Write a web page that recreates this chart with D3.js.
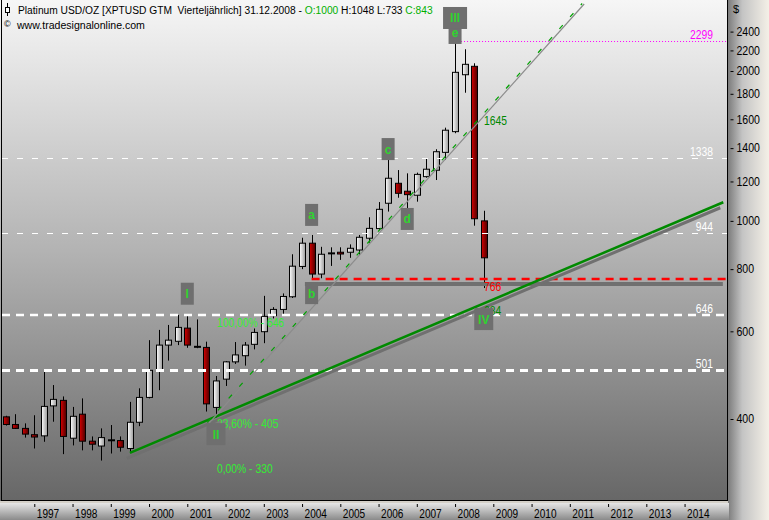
<!DOCTYPE html>
<html><head><meta charset="utf-8">
<script src="https://cdn.jsdelivr.net/npm/d3@7"></script>
<style>
body{margin:0;background:#d4d0c8;overflow:hidden;}
svg{display:block;}
text{font-family:"Liberation Sans",Arial,sans-serif;}
</style></head><body>
<svg id="c" width="769" height="520"></svg>
<script>
// ---------------- data ----------------
const quarters = ["1996Q2","1996Q3","1996Q4",
 "1997Q1","1997Q2","1997Q3","1997Q4","1998Q1","1998Q2","1998Q3","1998Q4",
 "1999Q1","1999Q2","1999Q3","1999Q4","2000Q1","2000Q2","2000Q3","2000Q4",
 "2001Q1","2001Q2","2001Q3","2001Q4","2002Q1","2002Q2","2002Q3","2002Q4",
 "2003Q1","2003Q2","2003Q3","2003Q4","2004Q1","2004Q2","2004Q3","2004Q4",
 "2005Q1","2005Q2","2005Q3","2005Q4","2006Q1","2006Q2","2006Q3","2006Q4",
 "2007Q1","2007Q2","2007Q3","2007Q4","2008Q1","2008Q2","2008Q3","2008Q4"];
const open  = [404,390,383,372,370,425,436,366,409,361,353,362,362,349,394,442,502,563,573,609,559,557,422,481,521,536,565,599,645,664,704,810,902,782,860,865,865,874,923,965,1085,1190,1147,1126,1227,1264,1373,1511,1966,2044,1000];
const high  = [406,409,392,407,498,468,444,423,440,369,383,389,369,433,461,576,604,618,647,647,634,572,488,523,571,571,608,707,671,715,857,925,937,887,885,885,897,937,1017,1091,1326,1265,1246,1250,1336,1393,1539,2290,2212,2073,1048];
const low   = [388,382,367,349,360,395,340,354,346,346,330,341,344,344,387,440,457,524,563,556,555,414,403,466,516,512,552,568,637,650,700,800,767,767,812,835,843,854,904,959,1044,1113,1060,1093,1221,1208,1326,1500,1809,978,733];
const close = [390,383,373,368,424,438,369,405,361,356,367,363,351,394,442,501,563,576,611,563,558,429,477,521,538,563,597,643,664,705,811,902,782,857,861,858,881,927,966,1055,1218,1136,1129,1240,1270,1377,1521,1988,2063,1010,843];

const yearLabels = ["1997","1998","1999","2000","2001","2002","2003","2004","2005","2006","2007","2008","2009","2010","2011","2012","2013","2014"];
const yearIndex  = [3,7,11,15,19,23,27,31,35,39,43,47,51,55,59,63,67,71];
const priceTicks = [400,600,800,1000,1200,1400,1600,1800,2000,2200,2400];

const levelValues = [2299,1338,944,646,501,766];
const levelLabels = ["2299","1338","944","646","501","766"];
const levelStart  = [47,0,0,0,0,32];

const fibLabels = ["100,00% - 646","23,60% - 405","0,00% - 330"];
const fibValues = [646,405,330];

const tagLabels = ["1645","766","684"];
const tagValues = [1645,766,684];

const waveLabels = ["I","II","e","III","IV","a","b","c","d"];
const waveIndex  = [19,22,47,47,50,32,32,40,42];
const waveValues = [714,373,2385,2556,635,1028,716,1394,1009];

const thinTrend  = [[21.3,393],[60.5,2727]];
const greenTrend = [[13,342],[75.05,1090]];
const grayBar    = [[31.3,747],[75.0,747]];

// ---------------- scales ----------------
const svg = d3.select("#c");
const x = d3.scaleLinear().domain([0,71]).range([5.6,684.57]);
const y = d3.scaleLog().domain([400,2400]).range([419,31.6]);

function squeeze(sel, sx){
  sel.each(function(){
    const t = d3.select(this);
    const tx = +t.attr("x")||0, ty = +t.attr("y")||0;
    t.attr("x",0).attr("y",0).attr("transform",`translate(${tx},${ty}) scale(${sx},1)`);
  });
}

// ---------------- defs ----------------
const defs = svg.append("defs");
function grad(id, x2, y2, stops){
  const g = defs.append("linearGradient").attr("id",id).attr("x1",0).attr("y1",0).attr("x2",x2).attr("y2",y2);
  stops.forEach(s=>g.append("stop").attr("offset",s[0]).attr("stop-color",s[1]));
}
grad("bg",0,1,[["0%","#f6f6f6"],["50%","#b3b3b3"],["100%","#676767"]]);
grad("axR",1,0,[["0%","#7c7c7c"],["35%","#c4c4c4"],["100%","#f4f0e7"]]);
grad("axB",0,1,[["0%","#e6e6e6"],["100%","#8a8a8a"]]);
grad("wc",1,0,[["0%","#ffffff"],["100%","#9a9a9a"]]);
grad("rc",1,0,[["0%","#d80000"],["100%","#4a0000"]]);
defs.append("clipPath").attr("id","clip").append("rect").attr("x",2).attr("y",0).attr("width",725).attr("height",500);

// ---------------- backgrounds ----------------
svg.append("rect").attr("x",0).attr("y",0).attr("width",728).attr("height",501).attr("fill","url(#bg)");
svg.append("rect").attr("x",728).attr("y",0).attr("width",41).attr("height",520).attr("fill","url(#axR)");
svg.append("rect").attr("x",0).attr("y",503).attr("width",729).attr("height",17).attr("fill","url(#axB)");

const plot = svg.append("g").attr("clip-path","url(#clip)");

// ---------------- candles ----------------
const cw = 7;
quarters.forEach((q,i)=>{
  const cx = Math.round(x(i));
  plot.append("line").attr("x1",cx+0.5).attr("x2",cx+0.5)
    .attr("y1",y(high[i])).attr("y2",y(low[i])).attr("stroke","#000").attr("stroke-width",1);
  const top = y(Math.max(open[i],close[i])), bot = y(Math.min(open[i],close[i]));
  const up = close[i] >= open[i];
  if (bot-top < 1.2){
    plot.append("rect").attr("x",cx-3).attr("y",(top+bot)/2-1).attr("width",cw).attr("height",2).attr("fill","#000");
  } else {
    plot.append("rect").attr("x",cx-3+0.5).attr("y",top).attr("width",cw-1).attr("height",bot-top)
      .attr("fill",up?"url(#wc)":"url(#rc)").attr("stroke","#000").attr("stroke-width",1);
  }
});

// ---------------- level lines ----------------
const levelStyle = [
  {c:"#ff00ff",w:1,d:"1,2"},
  {c:"#ffffff",w:1,d:"6,9"},
  {c:"#ffffff",w:1,d:"6,9"},
  {c:"#ffffff",w:2.5,d:"8,6"},
  {c:"#ffffff",w:3,d:"8,6"},
  {c:"#ff0000",w:2.5,d:"8,6"}
];
plot.append("line").attr("x1",x(grayBar[0][0])).attr("x2",x(grayBar[1][0]))
  .attr("y1",y(grayBar[0][1])).attr("y2",y(grayBar[1][1])).attr("stroke","#707070").attr("stroke-width",4);

levelValues.forEach((v,k)=>{
  const st = levelStyle[k];
  const yy = Math.round(y(v)) + (st.w%2===1?0.5:0);
  plot.append("line").attr("x1",levelStart[k]===0?2:x(levelStart[k])).attr("x2",727)
    .attr("y1",yy).attr("y2",yy).attr("stroke",st.c).attr("stroke-width",st.w).attr("stroke-dasharray",st.d);
  if (k<5){
    const t = svg.append("text").attr("x",713).attr("y",y(v)-2).attr("text-anchor","end")
      .attr("font-size",12).attr("fill",st.c).text(levelLabels[k]);
    squeeze(t,0.86);
  }
});

// ---------------- trend lines ----------------
const lineGen = d3.line().x(d=>x(d[0])).y(d=>y(d[1]));
plot.append("path").attr("d",lineGen(greenTrend)).attr("transform","translate(-3,5.5)")
  .attr("fill","none").attr("stroke","#707070").attr("stroke-width",3);
plot.append("path").attr("d",lineGen(greenTrend))
  .attr("fill","none").attr("stroke","#008a00").attr("stroke-width",2.5);
plot.append("path").attr("d",lineGen(thinTrend))
  .attr("fill","none").attr("stroke","#8c8c8c").attr("stroke-width",1.2);
plot.append("path").attr("d",lineGen(thinTrend)).attr("transform","translate(-2,-0.5)")
  .attr("fill","none").attr("stroke","#00a000").attr("stroke-width",1.2).attr("stroke-dasharray","5,11");

// ---------------- fib labels ----------------
fibValues.forEach((v,k)=>{
  const t = plot.append("text").attr("x",217).attr("y",y(v)+12)
    .attr("font-size",12).attr("fill","#33ee33").text(fibLabels[k]);
  squeeze(t,0.86);
});

// ---------------- price tags ----------------
const tagColors = ["#008800","#ff0000","#008800"];
tagValues.forEach((v,k)=>{
  const t = plot.append("text").attr("x",484).attr("y",y(v)+12)
    .attr("font-size",12).attr("fill",tagColors[k]).text(tagLabels[k]);
  squeeze(t,0.86);
});

// ---------------- wave labels ----------------
waveLabels.forEach((t,k)=>{
  const cx = x(waveIndex[k]), cy = y(waveValues[k]);
  const w = t.length===1?13:(t.length===2?19:24);
  plot.append("rect").attr("x",cx-w/2).attr("y",cy-11).attr("width",w).attr("height",22).attr("fill","#6f6f6f");
  plot.append("text").attr("x",cx).attr("y",cy+4.5).attr("text-anchor","middle")
    .attr("font-family","'DejaVu Sans Mono','Liberation Mono',monospace").attr("font-weight","bold")
    .attr("font-size",12).attr("fill","#2fd42f").text(t);
});

// ---------------- frame ----------------
svg.append("line").attr("x1",1.5).attr("x2",1.5).attr("y1",0).attr("y2",501).attr("stroke","#000");
svg.append("line").attr("x1",727.5).attr("x2",727.5).attr("y1",0).attr("y2",501).attr("stroke","#000");
svg.append("line").attr("x1",1).attr("x2",728).attr("y1",500.5).attr("y2",500.5).attr("stroke","#000");

// ---------------- axes ----------------
const yAxis = svg.append("g").attr("transform","translate(730.5,0)")
  .call(d3.axisRight(y).tickValues(priceTicks).tickSize(3).tickFormat(d3.format("d")));
yAxis.select(".domain").remove();
yAxis.selectAll("line").attr("stroke","#000");
yAxis.selectAll("text").attr("font-size",12).attr("fill","#000").attr("x",6);
squeeze(yAxis.selectAll("text"),0.88);
svg.append("text").attr("x",733).attr("y",13).attr("font-size",11).attr("fill","#000").text("$");

const xAxis = svg.append("g").attr("transform","translate(0,504)")
  .call(d3.axisBottom(x).tickValues(yearIndex).tickSize(3).tickFormat((d,k)=>yearLabels[k]));
xAxis.select(".domain").remove();
xAxis.selectAll(".tick line").attr("stroke","#000");
xAxis.selectAll("text").attr("font-size",12).attr("fill","#000")
  .attr("text-anchor","start").attr("x",2).attr("y",13.5).attr("dy",0);
squeeze(xAxis.selectAll("text"),0.84);

// ---------------- header ----------------
const ic = svg.append("g");
ic.append("line").attr("x1",7.5).attr("x2",7.5).attr("y1",3).attr("y2",16).attr("stroke","#000");
ic.append("rect").attr("x",5.5).attr("y",7.5).attr("width",4).attr("height",5).attr("fill","#fff").attr("stroke","#000");
const hdr = svg.append("text").attr("x",0).attr("y",0).attr("font-size",11.5).attr("fill","#000")
  .style("white-space","pre");
hdr.append("tspan").text("Platinum USD/OZ [XPTUSD GTM  Vierteljährlich] 31.12.2008 - ");
hdr.append("tspan").attr("fill","#00b000").text("O:1000");
hdr.append("tspan").text(" H:1048 L:733 ");
hdr.append("tspan").attr("fill","#00b000").text("C:843");
const hl = hdr.node().getComputedTextLength();
hdr.attr("transform",`translate(18,14) scale(${415/hl},1)`);
svg.append("text").attr("x",4).attr("y",27).attr("font-size",9).attr("fill","#000").text("©");
const www = svg.append("text").attr("x",17).attr("y",29).attr("font-size",11.5).attr("fill","#000").text("www.tradesignalonline.com");
const wl = www.node().getComputedTextLength();
www.attr("x",0).attr("y",0).attr("transform",`translate(17,29) scale(${128/wl},1)`);
</script>
</body></html>
